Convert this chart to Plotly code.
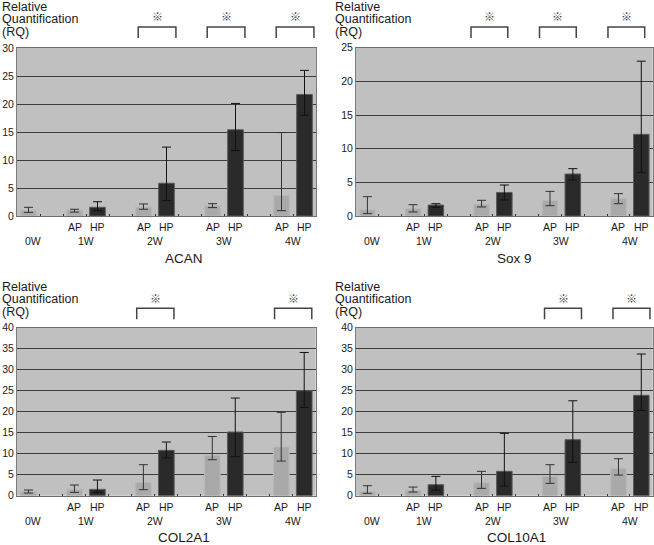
import plotly.graph_objects as go

# ---------------- data ----------------
weeks = ["1W", "2W", "3W", "4W"]
genes = ["ACAN", "Sox 9", "COL2A1", "COL10A1"]
y_max = [30, 25, 40, 40]

# control (0W)
ctrl_val = [1.0, 0.9, 0.95, 0.95]
ctrl_hi = [1.55, 2.87, 1.35, 2.38]
ctrl_lo = [0.65, 0.35, 0.63, 0.56]

# ACAN
acan_ap = [1.05, 1.6, 1.85, 3.65]
acan_ap_hi = [1.2, 2.15, 2.2, 14.9]
acan_ap_lo = [0.7, 1.2, 1.5, 0.95]
acan_hp = [1.55, 5.85, 15.4, 21.7]
acan_hp_hi = [2.55, 12.3, 20.1, 26.0]
acan_hp_lo = [0.95, 2.75, 11.7, 18.0]

# Sox 9
sox9_ap = [1.09, 1.73, 2.33, 2.62]
sox9_ap_hi = [1.68, 2.33, 3.66, 3.32]
sox9_ap_lo = [0.6, 1.34, 1.53, 1.83]
sox9_hp = [1.63, 3.5, 6.24, 12.13]
sox9_hp_hi = [1.83, 4.6, 7.03, 23.0]
sox9_hp_lo = [1.29, 2.38, 5.35, 6.49]

# COL2A1
col2_ap = [1.5, 3.17, 9.6, 11.6]
col2_ap_hi = [2.54, 7.38, 14.1, 19.84]
col2_ap_lo = [0.79, 1.43, 8.57, 8.25]
col2_hp = [1.5, 10.8, 15.16, 25.0]
col2_hp_hi = [3.73, 12.78, 23.25, 34.1]
col2_hp_lo = [0.79, 8.97, 9.29, 21.0]

# COL10A1
col10_ap = [1.27, 3.1, 4.6, 6.5]
col10_ap_hi = [2.06, 5.8, 7.38, 8.8]
col10_ap_lo = [0.87, 1.75, 2.94, 4.92]
col10_hp = [2.62, 5.8, 13.33, 23.9]
col10_hp_hi = [4.6, 14.84, 22.6, 33.73]
col10_hp_lo = [1.35, 2.3, 7.94, 20.3]

# significant weeks (※)
sig_weeks = [["2W", "3W", "4W"], ["2W", "3W", "4W"], ["2W", "4W"], ["3W", "4W"]]

ap_sets = [(acan_ap, acan_ap_hi, acan_ap_lo), (sox9_ap, sox9_ap_hi, sox9_ap_lo),
           (col2_ap, col2_ap_hi, col2_ap_lo), (col10_ap, col10_ap_hi, col10_ap_lo)]
hp_sets = [(acan_hp, acan_hp_hi, acan_hp_lo), (sox9_hp, sox9_hp_hi, sox9_hp_lo),
           (col2_hp, col2_hp_hi, col2_hp_lo), (col10_hp, col10_hp_hi, col10_hp_lo)]

# ---------------- layout / style ----------------
W, H = 654, 545
FONT = "Liberation Sans, Arial, sans-serif"
TXT = "#1a1a1a"
BG = "#c0c0c0"
AP_COL = "#a9a9a9"
HP_COL = "#2a2a2a"
GRID = "#3c3c3c"

# category slots (with spacer slots between week groups)
slots = ["0W", "gap1"]
for i, w in enumerate(weeks):
    slots += [w + " AP", w + " HP"]
    if i < len(weeks) - 1:
        slots.append("gap%d" % (i + 2))

# panel boxes in pixels: (left, right, top, bottom)
boxes = [(17, 316, 48, 216), (356, 652.7, 47.7, 216),
         (17, 315.7, 327.7, 495.7), (356, 652.7, 327.7, 495.7)]
# bracket offsets (left of AP, right of HP) in slot units, bracket y px (top, bottom), mark y px
br_off = [(-0.23, 0.41), (-0.46, 0.15), (-0.29, 0.33), (-0.24, 0.38)]
br_y = [(27, 38, 16.5), (27, 38, 16.5), (308.3, 319.3, 298), (308.3, 319.3, 298)]
ylab_x = [1, 334, 1, 334]
ylab_y = [19.5, 19.5, 299.5, 299.5]
title_x = [6.75, 6.45, 6.75, 6.55]


def py(p):
    return 1 - p / H


fig = go.Figure()
annotations = []
shapes = []


def ann(**kw):
    kw.setdefault("showarrow", False)
    kw.setdefault("xanchor", "center")
    kw.setdefault("yanchor", "middle")
    annotations.append(kw)


ylab_text = "<br>".join("<span style='font-size:12.5px'>%s</span>" % s
                        for s in ["Relative", "Quantification", "(RQ)"])

for k in range(4):
    L, R, T, B = boxes[k]
    ax = "" if k == 0 else str(k + 1)
    xa, ya = "x" + ax, "y" + ax

    ap_v, ap_hi, ap_lo = ap_sets[k]
    hp_v, hp_hi, hp_lo = hp_sets[k]

    ap_x = ["0W"] + [w + " AP" for w in weeks]
    ap_y = [ctrl_val[k]] + ap_v
    ap_up = [ctrl_hi[k] - ctrl_val[k]] + [h - v for h, v in zip(ap_hi, ap_v)]
    ap_dn = [ctrl_val[k] - ctrl_lo[k]] + [v - l for l, v in zip(ap_lo, ap_v)]

    fig.add_trace(go.Bar(
        x=ap_x, y=ap_y, xaxis=xa, yaxis=ya, width=0.68,
        marker=dict(color=AP_COL, line=dict(color="#b8b8b8", width=1.2)),
        error_y=dict(type="data", symmetric=False, array=ap_up, arrayminus=ap_dn,
                     color="#333333", thickness=1, width=4.5),
        showlegend=False, hoverinfo="x+y"))

    hp_x = [w + " HP" for w in weeks]
    fig.add_trace(go.Bar(
        x=hp_x, y=hp_v, xaxis=xa, yaxis=ya, width=0.68,
        marker=dict(color=HP_COL, line=dict(color="#5a5a5a", width=1)),
        error_y=dict(type="data", symmetric=False,
                     array=[h - v for h, v in zip(hp_hi, hp_v)],
                     arrayminus=[v - l for l, v in zip(hp_lo, hp_v)],
                     color="#111111", thickness=1, width=4.5),
        showlegend=False, hoverinfo="x+y"))

    xkey = "xaxis" + ax
    ykey = "yaxis" + ax
    fig.layout[xkey] = dict(
        domain=[L / W, R / W], anchor=ya, type="category", automargin=False,
        categoryorder="array", categoryarray=slots, range=[-0.5, len(slots) - 0.5],
        tickmode="array", tickvals=slots, ticktext=[""] * len(slots),
        tickson="boundaries", ticks="inside", ticklen=2, tickcolor="#333333",
        showgrid=False, showline=True, linecolor="#6f6f6f", linewidth=1, mirror=True,
        fixedrange=True)
    fig.layout[ykey] = dict(
        domain=[py(B), py(T)], anchor=xa, range=[0, y_max[k]], dtick=5, automargin=False,
        showgrid=True, gridcolor=GRID, gridwidth=1, zeroline=False,
        showline=True, linecolor="#7a7a7a", linewidth=1, mirror=True,
        ticks="", tickfont=dict(family=FONT, size=10.5, color=TXT), fixedrange=True)

    # AP / HP labels and week labels
    ycat = py(B + 11)
    yweek = py(B + 25)
    f_small = dict(family=FONT, size=10.5, color=TXT)
    ann(x=0.2, y=yweek, xref=xa, yref="paper", text="0W", font=f_small)
    for w in weeks:
        for g in ("AP", "HP"):
            ann(x=w + " " + g, y=ycat, xref=xa, yref="paper", text=g, font=f_small)
        mid = slots.index(w + " AP") + 0.5
        ann(x=mid, y=yweek, xref=xa, yref="paper", text=w, font=f_small)

    # gene title
    ann(x=title_x[k], y=py(B + 42), xref=xa, yref="paper", text=genes[k],
        font=dict(family=FONT, size=13.5, color=TXT))

    # y label (three tight lines)
    ann(x=ylab_x[k] / W, y=py(ylab_y[k]), xref="paper", yref="paper", text=ylab_text,
        xanchor="left", align="left", borderpad=0, font=dict(family=FONT, size=9.6, color=TXT))

    # significance brackets
    yt, yb, ym = br_y[k]
    for w in sig_weeks[k]:
        x0 = slots.index(w + " AP") + br_off[k][0]
        x1 = slots.index(w + " HP") + br_off[k][1]
        shapes.append(dict(type="path", xref=xa, yref="paper",
                           path="M %f,%f L %f,%f L %f,%f L %f,%f" % (
                               x0, py(yb), x0, py(yt), x1, py(yt), x1, py(yb)),
                           line=dict(color="#444444", width=1.5)))
        ann(x=(x0 + x1) / 2, y=py(ym), xref=xa, yref="paper", text="※",
            font=dict(family="Noto Sans CJK JP", size=11, color="#444444"))

fig.update_layout(
    width=W, height=H, margin=dict(l=0, r=0, t=0, b=0, autoexpand=False),
    paper_bgcolor="white", plot_bgcolor=BG, barmode="overlay",
    annotations=annotations, shapes=shapes, showlegend=False,
    font=dict(family=FONT, color=TXT))

fig.write_html("out.html", config={"displayModeBar": False},
               post_script="document.body.style.margin='0px';")
